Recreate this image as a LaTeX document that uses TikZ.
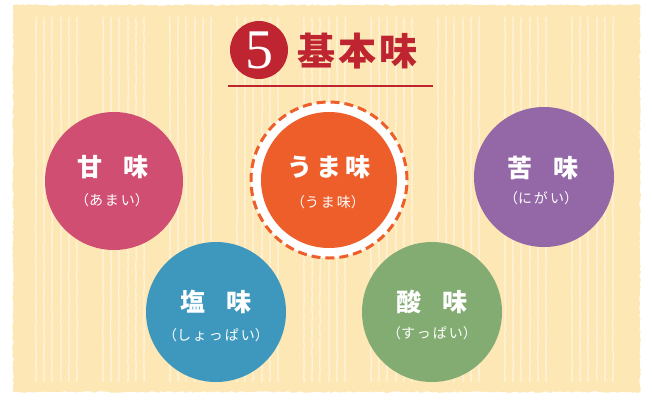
\documentclass[tikz,border=0pt]{standalone}
\usepackage{fontspec}
\setmainfont{Liberation Serif}
\newfontfamily\jp{Noto Sans CJK JP}
\usetikzlibrary{decorations.pathmorphing}
\definecolor{bgcream}{HTML}{FDE7B5}
\definecolor{titlered}{HTML}{BE2531}
\definecolor{sweetpink}{HTML}{D14E73}
\definecolor{umamiorange}{HTML}{EE5E2A}
\definecolor{bitterpurple}{HTML}{9467A6}
\definecolor{saltblue}{HTML}{3E98BD}
\definecolor{sourgreen}{HTML}{82AC72}
\tikzset{
  stripe/.style={white, opacity=0.5, line width=1.4pt, decorate, decoration={random steps, segment length=3pt, amplitude=0.4pt}},
  bubble/.style={circle, inner sep=0pt, minimum size=140pt},
  mainlbl/.style={text=white, font=\jp\bfseries\fontsize{25}{25}\selectfont, inner sep=0pt},
  sublbl/.style={text=white, font=\jp\fontsize{14}{14}\selectfont, inner sep=0pt},
}
\begin{document}
\begin{tikzpicture}[x=1pt,y=-1pt]
\useasboundingbox (0,0) rectangle (652,405);
\fill[bgcream, decorate, decoration={random steps, segment length=2.5pt, amplitude=0.8pt}] (13,5) rectangle (640,392);
\foreach \g in {0,...,8}{
  \foreach \o in {0,8,16,25,33,41}{
    \draw[stripe] ({36+67*\g+\o},17) -- ({36+67*\g+\o},382);
  }
}
% title
\node[circle, fill=titlered, minimum size=58pt, inner sep=0pt] (num) at (259,50) {\fontsize{56}{56}\selectfont\color{white}5};
\node[anchor=west, text=titlered, font=\jp\bfseries\fontsize{38}{38}\selectfont, inner sep=0pt] (title) at (297,51) {基\hspace{3pt}本\hspace{3pt}味};
\coordinate (ulA) at (228,86);
\coordinate (ulB) at (433,86);
\draw[titlered, line width=2pt] (ulA) -- (ulB);
% umami
\node[bubble, minimum size=156pt, fill=white, draw=umamiorange, line width=3pt, dash pattern=on 9pt off 5pt] (umamiring) at (329,180) {};
\node[bubble, minimum size=136pt, fill=umamiorange] (umami) at (329,180) {};
\node[mainlbl] (umamiT) at (329,167) {う\hspace{4pt}ま\hspace{4pt}味};
\node[sublbl] (umamiS) at (328,202) {（う\hspace{2pt}ま\hspace{2pt}味）};
% sweet
\node[bubble, fill=sweetpink, minimum size=138pt] (sweet) at (114,181) {};
\node[mainlbl] (sweetT) at (113,167) {甘\hspace{21pt}味};
\node[sublbl] (sweetS) at (112,200) {（あ\hspace{2pt}ま\hspace{2pt}い）};
% bitter
\node[bubble, fill=bitterpurple, minimum size=140pt] (bitter) at (544,177) {};
\node[mainlbl] (bitterT) at (543,168) {苦\hspace{21pt}味};
\node[sublbl] (bitterS) at (541,198) {（に\hspace{2pt}が\hspace{2pt}い）};
% salty
\node[bubble, fill=saltblue] (salt) at (216,312) {};
\node[mainlbl] (saltT) at (216,302) {塩\hspace{21pt}味};
\node[sublbl] (saltS) at (216,335) {（し\hspace{2pt}ょ\hspace{2pt}っ\hspace{2pt}ぱ\hspace{2pt}い）};
% sour
\node[bubble, fill=sourgreen] (sour) at (432,312) {};
\node[mainlbl] (sourT) at (432,302) {酸\hspace{21pt}味};
\node[sublbl] (sourS) at (432,333) {（す\hspace{2pt}っ\hspace{2pt}ぱ\hspace{2pt}い）};
\end{tikzpicture}
\end{document}
